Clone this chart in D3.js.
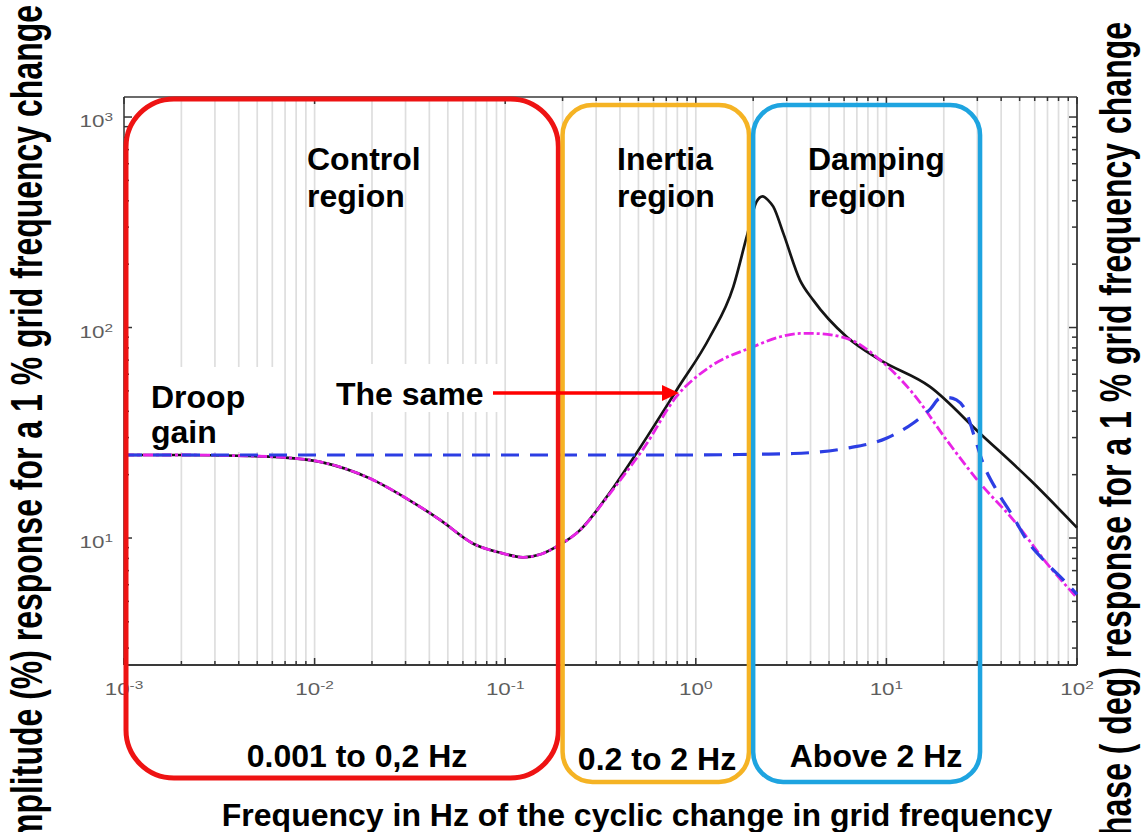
<!DOCTYPE html>
<html><head><meta charset="utf-8">
<script src="https://cdn.jsdelivr.net/npm/d3@7"></script>
<style>
body{margin:0;background:#fff;}
svg{display:block;font-family:"Liberation Sans",Arial,Helvetica,sans-serif;}
</style>
</head><body>
<svg id="chart" width="1142" height="832"></svg>
<script>
// ---------- data ----------
const xDomain = [0.001, 100];
const yDomain = [2.493, 1245];
const xTickExps = [-3, -2, -1, 0, 1, 2];
const yTickExps = [1, 2, 3];

const blackFreq = [0.001,0.002,0.004,0.0066,0.0107,0.0195,0.0304,0.0455,0.068,0.095,0.124,0.155,0.186,0.247,0.355,0.47,0.794,1.187,1.573,1.85,2.08,2.24,2.4,2.55,2.88,3.52,4.13,6.18,9.25,16.9,31,56.7,100];
const blackAmp  = [24.8,24.8,24.6,24.2,23.0,19.2,15.4,12.2,9.4,8.5,8.1,8.4,9.1,10.9,16.5,24.0,50.5,90.4,156,270,395,420,402,375,280,168,135,90.4,70.2,52.4,31.4,18.9,11.2];

const magentaFreq = [0.001,0.002,0.004,0.0066,0.0107,0.0195,0.0304,0.0455,0.068,0.095,0.124,0.155,0.186,0.247,0.355,0.47,0.53,0.79,1.19,2.0,2.77,3.52,4.13,6.18,9.25,13.8,20.7,31,46.3,69.3,100];
const magentaAmp  = [24.8,24.8,24.6,24.2,23.0,19.2,15.4,12.2,9.4,8.5,8.1,8.4,9.1,10.9,16.3,22.8,26.5,46.9,65.2,81,90.4,93.7,93.7,88.9,70.2,48.6,29.2,18.2,12.2,7.6,5.2];

const blueFreq = [0.001,0.01,0.1,1,2,3.24,6.18,10,13.8,17,19.1,21,23.3,26.4,28.6,32.2,37.8,46.3,54.5,69.3,88.3,100];
const blueAmp  = [24.8,24.8,24.8,24.8,25.0,25.2,26.7,29.8,35.1,41,46.1,46.5,45.3,39.2,31.4,22.6,16.9,12.6,9.78,7.6,6.1,5.4];

const regionFrom  = [0.001, 0.2, 2.0];
const regionTo    = [0.19, 1.9, 31];
const regionTitle = [["Control","region"],["Inertia","region"],["Damping","region"]];
const regionRange = ["0.001 to 0,2 Hz", "0.2 to 2 Hz", "Above 2 Hz"];

// ---------- layout ----------
const svg = d3.select("#chart");
const L = 124, R = 1077, T = 97, B = 665;
const x = d3.scaleLog().domain(xDomain).range([L, R]);
const y = d3.scaleLog().domain(yDomain).range([B, T]);

const xGridVals = [];
for (let e = -3; e <= 1; e++) for (let m = 1; m <= 9; m++) xGridVals.push(m * Math.pow(10, e));
xGridVals.push(100);
const yMinorVals = [];
for (let e = 0; e <= 3; e++) for (let m = 1; m <= 9; m++) {
  const v = m * Math.pow(10, e);
  if (v >= yDomain[0] && v <= yDomain[1]) yMinorVals.push(v);
}

// vertical grid lines
svg.append("g").selectAll("line").data(xGridVals).join("line")
  .attr("x1", d => x(d)).attr("x2", d => x(d)).attr("y1", T).attr("y2", B)
  .attr("stroke", "#dedede").attr("stroke-width", 1.7);

// white label backgrounds
svg.append("rect").attr("x", 132).attr("y", 367).attr("width", 148).attr("height", 85).attr("fill", "#fff");
svg.append("rect").attr("x", 317).attr("y", 364).attr("width", 186).attr("height", 48).attr("fill", "#fff");

// frame
const frame = svg.append("g").attr("stroke", "#3a3a3a").attr("fill", "none");
frame.append("line").attr("x1", L).attr("x2", R).attr("y1", T).attr("y2", T).attr("stroke-width", 1.5);
frame.append("line").attr("x1", R).attr("x2", R).attr("y1", T).attr("y2", B).attr("stroke-width", 1.8);
frame.append("line").attr("x1", L).attr("x2", R).attr("y1", B).attr("y2", B).attr("stroke-width", 2);
frame.append("line").attr("x1", L).attr("x2", L).attr("y1", T).attr("y2", B).attr("stroke-width", 1.5);

// ticks
const isMajor = v => Math.abs(Math.log10(v) - Math.round(Math.log10(v))) < 1e-9;
const tk = svg.append("g").attr("stroke", "#333").attr("stroke-width", 1.5);
xGridVals.forEach(v => {
  const len = isMajor(v) ? 7 : 4;
  tk.append("line").attr("x1", x(v)).attr("x2", x(v)).attr("y1", B).attr("y2", B - len);
  tk.append("line").attr("x1", x(v)).attr("x2", x(v)).attr("y1", T).attr("y2", T + len);
});
yMinorVals.forEach(v => {
  const len = isMajor(v) ? 8 : 5;
  tk.append("line").attr("x1", R).attr("x2", R - len).attr("y1", y(v)).attr("y2", y(v));
  tk.append("line").attr("x1", L).attr("x2", L + len).attr("y1", y(v)).attr("y2", y(v));
});

// tick labels
const lab = svg.append("g").attr("fill", "#5e5e5e").attr("font-size", 16);
xTickExps.forEach(e => {
  const t = lab.append("text").attr("text-anchor", "middle")
    .attr("transform", `translate(${x(Math.pow(10, e))},695) scale(1.4,1)`);
  t.append("tspan").text("10");
  t.append("tspan").attr("font-size", 11).attr("dy", -6).text(e);
});
yTickExps.forEach(e => {
  const t = lab.append("text").attr("text-anchor", "end")
    .attr("transform", `translate(113,${y(Math.pow(10, e)) + 10}) scale(1.4,1)`);
  t.append("tspan").text("10");
  t.append("tspan").attr("font-size", 11).attr("dy", -6).text(e);
});

// curves
const line = d3.line().x(d => x(d[0])).y(d => y(d[1])).curve(d3.curveMonotoneX);
const zip = (a, b) => a.map((f, i) => [f, b[i]]);
svg.append("path").attr("d", line(zip(blackFreq, blackAmp)))
  .attr("fill", "none").attr("stroke", "#151515").attr("stroke-width", 2.7);
svg.append("path").attr("d", line(zip(magentaFreq, magentaAmp)))
  .attr("fill", "none").attr("stroke", "#e823e6").attr("stroke-width", 2.8)
  .attr("stroke-dasharray", "10,3,3,3");
svg.append("path").attr("d", line(zip(blueFreq, blueAmp)))
  .attr("fill", "none").attr("stroke", "#2c3ee3").attr("stroke-width", 3.2)
  .attr("stroke-dasharray", "18,11");

// region boxes
const boxColors = ["#ee1313", "#f5b324", "#1ea4e0"];
const boxTop = [99, 105, 105], boxBottom = [778, 782, 782], boxR = [48, 30, 30];
regionFrom.forEach((f, i) => {
  const x0 = Math.max(x(f), L + 2), x1 = x(regionTo[i]);
  svg.append("rect").attr("x", x0).attr("y", boxTop[i]).attr("width", x1 - x0)
    .attr("height", boxBottom[i] - boxTop[i]).attr("rx", boxR[i]).attr("ry", boxR[i])
    .attr("fill", "none").attr("stroke", boxColors[i]).attr("stroke-width", i === 0 ? 5 : 4.5);
});

// region titles
const titleX = [307, 617, 808];
const txt = svg.append("g").attr("font-weight", "bold").attr("font-size", 32).attr("fill", "#000");
regionTitle.forEach((lines, i) => {
  txt.append("text").attr("x", titleX[i]).attr("y", 170).text(lines[0]);
  txt.append("text").attr("x", titleX[i]).attr("y", 207).text(lines[1]);
});
const rangeX = [357, 657, 876], rangeY = [767, 770, 767];
regionRange.forEach((s, i) => {
  txt.append("text").attr("x", rangeX[i]).attr("y", rangeY[i]).attr("text-anchor", "middle").text(s);
});

// droop / the same
txt.append("text").attr("x", 151).attr("y", 408).text("Droop");
txt.append("text").attr("x", 151).attr("y", 443).text("gain");
txt.append("text").attr("x", 336).attr("y", 405).text("The same");

// arrow
svg.append("line").attr("x1", 493).attr("x2", 664).attr("y1", 393).attr("y2", 393)
  .attr("stroke", "#ff0000").attr("stroke-width", 3.5);
svg.append("path").attr("d", "M662,385 L679,393 L662,401 Z").attr("fill", "#ff0000");

// axis titles
txt.append("text").attr("x", 637).attr("y", 826).attr("text-anchor", "middle")
  .text("Frequency in Hz of the cyclic change in grid frequency");
txt.append("text").attr("text-anchor", "end")
  .attr("transform", "translate(42,5) rotate(-90) scale(1,1.4)")
  .text("Amplitude (%) response for a 1 % grid frequency change");
txt.append("text").attr("text-anchor", "end")
  .attr("transform", "translate(1131,22) rotate(-90) scale(1,1.4)")
  .text("Phase ( deg) response for a 1 % grid frequency change");
</script>
</body></html>
